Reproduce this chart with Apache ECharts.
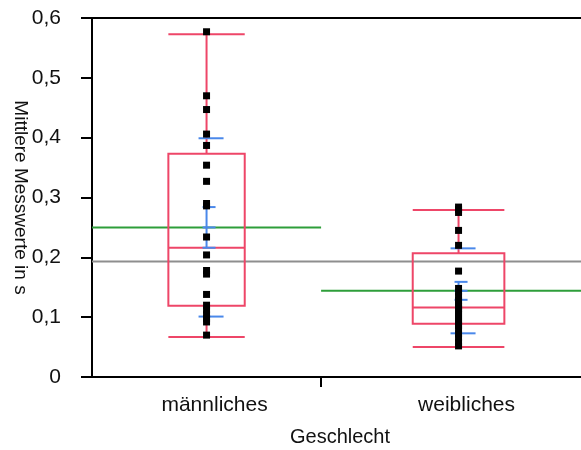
<!DOCTYPE html>
<html>
<head>
<meta charset="utf-8">
<script src="https://cdn.jsdelivr.net/npm/echarts@6/dist/echarts.min.js"></script>
<style>
  html, body { margin: 0; padding: 0; background: #fff; }
  #chart { width: 581px; height: 450px; }
</style>
</head>
<body>
<div id="chart"></div>
<script>
// Groups and their measured values (mean measurement time in s)
const categories = ['männliches', 'weibliches'];
const maleValues = [0.577, 0.470, 0.447, 0.406, 0.387, 0.354, 0.327, 0.290, 0.286, 0.234,
                    0.204, 0.178, 0.172, 0.138, 0.120, 0.112, 0.104, 0.098, 0.092, 0.070];
const femaleValues = [0.284, 0.280, 0.275, 0.245, 0.220, 0.177, 0.148, 0.142, 0.135, 0.128,
                      0.122, 0.118, 0.114, 0.110, 0.105, 0.100, 0.095, 0.090, 0.086, 0.080,
                      0.072, 0.065, 0.058, 0.052];
// Quantile boxes: [min, Q1, median, Q3, max]
const boxStats = [
  [0.067, 0.119, 0.216, 0.373, 0.573],
  [0.050, 0.089, 0.116, 0.207, 0.279]
];
const groupMeans = [0.250, 0.144];
const groupStdDev = [0.149, 0.071];
const groupStdErr = [0.034, 0.015];
const grandMean = 0.193;
const yTickValues = [0, 0.1, 0.2, 0.3, 0.4, 0.5, 0.6];

// x axis is proportional to group size
const groupValues = [maleValues, femaleValues];
const groupSizes = groupValues.map(v => v.length);
const groupStart = [];
let acc = 0;
groupSizes.forEach(n => { groupStart.push(acc); acc += n; });
const total = acc;
const groupCenter = groupSizes.map((n, i) => groupStart[i] + n / 2);

const RED = '#EE4668';
const BLUE = '#4A88EA';
const GREEN = '#2E9E3A';
const GRAY = '#8E8E8E';
const FONT = '"Liberation Sans", Arial, sans-serif';

const chart = echarts.init(document.getElementById('chart'), null, { renderer: 'canvas' });

const boxData = boxStats.map((s, i) => [groupStart[i], groupStart[i] + groupSizes[i], ...s]);
const meanLineData = groupMeans.map((m, i) => [groupStart[i], groupStart[i] + groupSizes[i], m]);
const errData = groupMeans.map((m, i) => [groupCenter[i], m, groupStdDev[i], groupStdErr[i]]);
const pointData = [];
groupValues.forEach((vals, i) => vals.forEach(v => pointData.push([groupCenter[i], v])));

function hLine(x1, x2, y, color) {
  return { type: 'line', shape: { x1, y1: y, x2, y2: y }, style: { stroke: color, lineWidth: 2 } };
}
function vLine(x, y1, y2, color) {
  return { type: 'line', shape: { x1: x, y1, x2: x, y2 }, style: { stroke: color, lineWidth: 2 } };
}

chart.setOption({
  animation: false,
  grid: {
    // the plot frame runs on past the right edge of the canvas
    left: 92, width: 504, top: 18, height: 359,
    containLabel: false, outerBoundsMode: 'none',
    show: true, borderColor: '#000', borderWidth: 2, backgroundColor: 'transparent'
  },
  xAxis: {
    type: 'value', min: 0, max: total,
    name: 'Geschlecht', nameLocation: 'middle', nameGap: 50, nameMoveOverlap: false,
    nameTextStyle: { fontFamily: FONT, fontSize: 20, color: '#111', padding: [0, 8, 0, 0] },
    axisLine: { show: true, lineStyle: { color: '#000', width: 2 } },
    axisTick: { show: true, length: 10, inside: false, customValues: [groupStart[1]],
                lineStyle: { color: '#000', width: 2 } },
    axisLabel: {
      customValues: groupCenter, margin: 18,
      fontFamily: FONT, fontSize: 21, color: '#111', padding: [0, 0, 0, 16],
      formatter: v => { const i = groupCenter.findIndex(c => Math.abs(c - v) < 1e-6); return i >= 0 ? categories[i] : ''; }
    },
    splitLine: { show: false }
  },
  yAxis: {
    type: 'value', min: 0, max: 0.6, interval: 0.1,
    name: 'Mittlere Messwerte in s', nameLocation: 'middle', nameGap: 62, nameRotate: -90,
    nameMoveOverlap: false,
    nameTextStyle: { fontFamily: FONT, fontSize: 19, color: '#111' },
    axisLine: { show: true, lineStyle: { color: '#000', width: 2 } },
    axisTick: { show: true, length: 11, inside: false, lineStyle: { color: '#000', width: 2 } },
    axisLabel: {
      margin: 31, fontFamily: FONT, fontSize: 21, color: '#111',
      customValues: yTickValues,
      formatter: v => v === 0 ? '0' : v.toFixed(1).replace('.', ',')
    },
    splitLine: { show: false }
  },
  series: [
    {
      // grand mean across both groups
      type: 'custom', z: 1,
      data: [[0, total, grandMean]],
      renderItem: (params, api) => {
        const a = api.coord([api.value(0), api.value(2)]);
        const b = api.coord([api.value(1), api.value(2)]);
        return hLine(a[0], b[0], a[1], GRAY);
      }
    },
    {
      // group means spanning each group's width
      type: 'custom', z: 2,
      data: meanLineData,
      renderItem: (params, api) => {
        const a = api.coord([api.value(0), api.value(2)]);
        const b = api.coord([api.value(1), api.value(2)]);
        return hLine(a[0], b[0], a[1], GREEN);
      }
    },
    {
      // quantile boxes with whiskers
      type: 'custom', z: 3,
      data: boxData,
      renderItem: (params, api) => {
        const x0 = api.coord([api.value(0), 0])[0];
        const x1 = api.coord([api.value(1), 0])[0];
        const w = (x1 - x0) / 3;
        const cx = (x0 + x1) / 2;
        const L = cx - w / 2, R = cx + w / 2;
        const y = k => api.coord([0, api.value(k)])[1];
        const yMin = y(2), yQ1 = y(3), yMed = y(4), yQ3 = y(5), yMax = y(6);
        return {
          type: 'group',
          children: [
            vLine(cx, yQ3, yMax, RED),
            vLine(cx, yQ1, yMin, RED),
            hLine(L, R, yMax, RED),
            hLine(L, R, yMin, RED),
            { type: 'rect', shape: { x: L, y: yQ3, width: w, height: yQ1 - yQ3 },
              style: { fill: 'none', stroke: RED, lineWidth: 2 } },
            hLine(L, R, yMed, RED)
          ]
        };
      }
    },
    {
      // mean error bars (standard error) and standard deviation lines
      type: 'custom', z: 4,
      data: errData,
      renderItem: (params, api) => {
        const c = api.coord([api.value(0), api.value(1)]);
        const m = api.value(1), sd = api.value(2), se = api.value(3);
        const y = v => api.coord([0, v])[1];
        const cx = c[0];
        return {
          type: 'group',
          children: [
            vLine(cx, y(m - se), y(m + se), BLUE),
            hLine(cx - 4, cx + 9, y(m + se), BLUE),
            hLine(cx - 4, cx + 9, y(m), BLUE),
            hLine(cx - 4, cx + 9, y(m - se), BLUE),
            hLine(cx - 8, cx + 17, y(m + sd), BLUE),
            hLine(cx - 8, cx + 17, y(m - sd), BLUE)
          ]
        };
      }
    },
    {
      type: 'scatter', z: 5,
      symbol: 'rect', symbolSize: 7,
      itemStyle: { color: '#000', opacity: 1 },
      data: pointData
    }
  ]
});
</script>
</body>
</html>
